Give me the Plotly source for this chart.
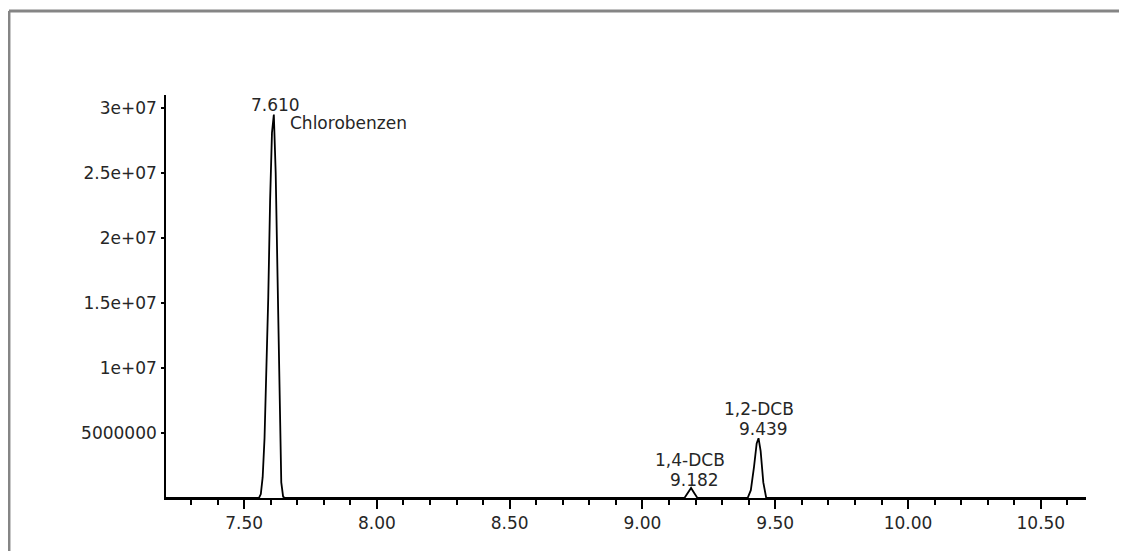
import plotly.graph_objects as go

# Retention time (min) and abundance
times = [7.206, 7.556, 7.563, 7.570, 7.577, 7.584, 7.591, 7.598, 7.605, 7.612,
         7.619, 7.626, 7.633, 7.640, 7.647, 7.654,
         9.158, 9.170, 9.183, 9.196, 9.207,
         9.396, 9.408, 9.420, 9.430, 9.437, 9.445, 9.455, 9.466, 10.67]
abundance = [0, 0, 0.3e6, 1.6e6, 4.6e6, 9.5e6, 15.4e6, 22.9e6, 28.1e6, 29.5e6,
             25.0e6, 17.0e6, 8.3e6, 1.2e6, 0.1e6, 0,
             0, 0.35e6, 0.77e6, 0.35e6, 0,
             0, 0.6e6, 2.4e6, 4.2e6, 4.6e6, 3.6e6, 1.2e6, 0, 0]

peak_times = [7.610, 9.182, 9.439]
peak_heights = [29.5e6, 0.77e6, 4.6e6]
peak_rt_labels = ["7.610", "9.182", "9.439"]
peak_names = ["Chlorobenzen", "1,4-DCB", "1,2-DCB"]

y_tickvals = [5e6, 1e7, 1.5e7, 2e7, 2.5e7, 3e7]
y_ticktext = ["5000000", "1e+07", "1.5e+07", "2e+07", "2.5e+07", "3e+07"]
x_tickvals = [7.5, 8.0, 8.5, 9.0, 9.5, 10.0, 10.5]
x_ticktext = ["7.50", "8.00", "8.50", "9.00", "9.50", "10.00", "10.50"]

FONT = "DejaVu Sans, Verdana, sans-serif"
FS = 17
TXT = "#262626"

fig = go.Figure()
fig.add_trace(go.Scatter(x=times, y=abundance, mode="lines",
                         line=dict(color="black", width=1.8),
                         hoverinfo="x+y", showlegend=False))

def ann(x, y, text, xanchor, xshift, yshift):
    return dict(x=x, y=y, xref="x", yref="y", text=text, showarrow=False,
                xanchor=xanchor, yanchor="middle", xshift=xshift, yshift=yshift,
                borderpad=0,
                font=dict(family=FONT, size=FS, color=TXT))

annotations = [
    ann(peak_times[0], peak_heights[0], peak_rt_labels[0], "center", 2, 10),
    ann(peak_times[0], peak_heights[0], peak_names[0], "left", 16, -8),
    ann(peak_times[1], peak_heights[1], peak_rt_labels[1], "center", 4, 8),
    ann(peak_times[1], peak_heights[1], peak_names[1], "center", -1, 28),
    ann(peak_times[2], peak_heights[2], peak_rt_labels[2], "center", 4, 9),
    ann(peak_times[2], peak_heights[2], peak_names[2], "center", 0, 29),
]

L, R, T, B = 158, 49, 87, 61
fig.update_layout(
    width=1127, height=551,
    margin=dict(l=L, r=R, t=T, b=B),
    paper_bgcolor="white", plot_bgcolor="white",
    font=dict(family=FONT, size=FS, color=TXT),
    annotations=annotations,
    shapes=[
        dict(type="line", xref="paper", yref="paper", x0=-0.1707, x1=1.1,
             y0=1.2084, y1=1.2084, line=dict(color="#858585", width=3)),
        dict(type="line", xref="paper", yref="paper", x0=-0.1707, x1=-0.1707,
             y0=1.2084, y1=-0.3, line=dict(color="#858585", width=3)),
    ],
)
fig.update_xaxes(range=[7.206, 10.67], showgrid=False, zeroline=False,
                 showline=True, linecolor="black", linewidth=1.6,
                 ticks="outside", ticklen=9, tickwidth=1.6, tickcolor="black",
                 tickvals=x_tickvals, ticktext=x_ticktext,
                 minor=dict(dtick=0.1, tick0=7.2, ticks="outside", ticklen=5,
                            tickwidth=1.6, tickcolor="black", showgrid=False),
                 tickfont=dict(family=FONT, size=FS, color=TXT))
fig.update_yaxes(range=[0, 3.1e7], showgrid=False, zeroline=False,
                 showline=True, linecolor="black", linewidth=1.6,
                 ticks="outside", ticklen=3, tickwidth=1.6, tickcolor="black",
                 tickvals=y_tickvals, ticktext=y_ticktext, ticklabelstandoff=1,
                 tickfont=dict(family=FONT, size=FS, color=TXT))

fig.write_html("out.html")
